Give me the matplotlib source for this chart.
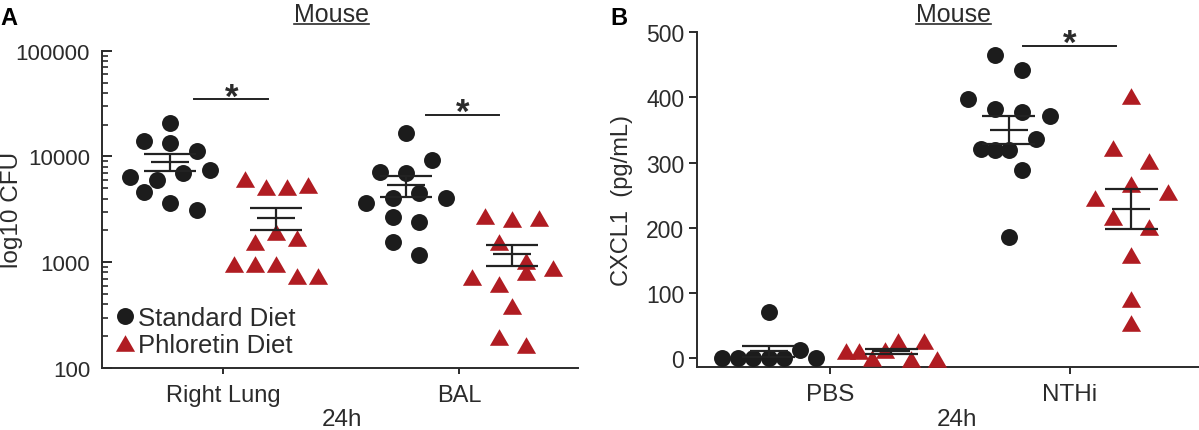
import numpy as np
import matplotlib
matplotlib.use('Agg')
import matplotlib.pyplot as plt
from matplotlib.ticker import LogLocator, NullFormatter, FixedLocator, FixedFormatter
from matplotlib.lines import Line2D
from matplotlib.path import Path

# ---------------- data ----------------
cats_a = ['Right Lung', 'BAL']
rl_std = [20700, 13900, 13500, 11300, 7380, 6380, 6020, 6920, 4600, 3670, 3130]
rl_phl = [6150, 5200, 5130, 5430, 1930, 1570, 1710, 966, 966, 966, 738, 738]
bal_std = [16600, 9310, 7110, 7010, 4510, 3650, 4040, 4040, 2670, 2390, 1570, 1180]
bal_phl = [2730, 2580, 2630, 1550, 1024, 805, 885, 722, 625, 389, 198, 166]
yticks_a = [100, 1000, 10000, 100000]

cats_b = ['PBS', 'NTHi']
pbs_std = [0, 0, 0, 0, 0, 12, 0, 70]
pbs_phl = [10, 10, 0, 13, 26, -2, 26, -2]
nthi_std = [465, 442, 397, 383, 378, 372, 336, 321, 319, 319, 288, 185]
nthi_phl = [402, 322, 302, 267, 246, 255, 216, 201, 158, 90, 54]
yticks_b = [0, 100, 200, 300, 400, 500]

legend_labels = ['Standard Diet', 'Phloretin Diet']

# ---------------- layout (swarm slots) ----------------
rl_std_slots = [0, -2, 0, 2, 3, -3, -1, 1, -2, 0, 2]
rl_phl_slots = [-3, -1, 1, 3, 0, -2, 2, -4, -2, 0, 2, 4]
bal_std_slots = [0, 2, -2, 0, 1, -3, -1, 3, -1, 1, -1, 1]
bal_phl_slots = [-2, 0, 2, -1, 1, 1, 3, -3, -1, 0, -1, 1]
pbs_std_slots = [-3, -2, -1, 0, 1, 2, 3, 0]
pbs_phl_slots = [-3.5, -2.5, -1.5, -0.5, 0.5, 1.5, 2.5, 3.5]
nthi_std_slots = [-1, 1, -3, -1, 1, 3, 2, -2, -1, 0, 1, 0]
nthi_phl_slots = [0, -1, 1, 0, -2, 2, -1, 1, 0, 0, 0]

plt.rcParams['font.family'] = ['Liberation Sans', 'DejaVu Sans']
TXT = '#2b2b2b'
BLACK = '#1c1c1c'
RED = '#b01c22'
plt.rcParams['text.color'] = TXT

W, H = 1199, 431
fig = plt.figure(figsize=(W / 100, H / 100), dpi=100)


def px_ax(l, t, r, b):
    return fig.add_axes([l / W, 1 - b / H, (r - l) / W, (b - t) / H])


axA = px_ax(101.7, 51.7, 578, 369)
axB = px_ax(696.7, 33.3, 1199, 367.7)

tri = Path([(0, 0.866), (-1, -0.866), (1, -0.866), (0, 0.866)],
           [Path.MOVETO, Path.LINETO, Path.LINETO, Path.CLOSEPOLY])

CIRC_MS = 12.2
TRI_MS = 13.8


def group(ax, xc, vals, slots, step, kind):
    x = [xc + s * step for s in slots]
    if kind == 'o':
        ax.plot(x, vals, ls='none', marker='o', ms=CIRC_MS, color=BLACK, mew=0, zorder=3)
    else:
        ax.plot(x, vals, ls='none', marker=tri, ms=TRI_MS, color=RED, mew=0, zorder=3)
    v = np.asarray(vals, float)
    m = v.mean()
    se = v.std(ddof=1) / np.sqrt(len(v))
    kw = dict(color='#222222', lw=1.6, zorder=4)
    ax.vlines(xc, m - se, m + se, **kw)
    ax.hlines([m - se, m + se], xc - 0.11, xc + 0.11, **kw)
    ax.hlines(m, xc - 0.08, xc + 0.08, **kw)


def sig(ax, xc, x0, x1, y):
    ax.plot([xc + x0, xc + x1], [y, y], color='#222222', lw=1.4)
    ax.annotate('*', (xc + (x0 + x1) / 2, y), xytext=(0, -5), textcoords='offset points',
                ha='center', va='baseline', fontsize=25, fontweight='bold', color=TXT)


# ---------------- panel A ----------------
offA = 0.225
group(axA, 0 - offA, rl_std, rl_std_slots, 0.056, 'o')
group(axA, 0 + offA, rl_phl, rl_phl_slots, 0.0447, '^')
group(axA, 1 - offA, bal_std, bal_std_slots, 0.056, 'o')
group(axA, 1 + offA, bal_phl, bal_phl_slots, 0.057, '^')

axA.set_yscale('log')
axA.set_ylim(100, 100000)
axA.set_xlim(-0.515, 1.504)
axA.yaxis.set_major_locator(FixedLocator(yticks_a))
axA.yaxis.set_major_formatter(FixedFormatter([str(t) for t in yticks_a]))
axA.yaxis.set_minor_locator(LogLocator(base=10, subs=np.arange(2, 10)))
axA.yaxis.set_minor_formatter(NullFormatter())
axA.set_xticks([0, 1])
axA.set_xticklabels(cats_a)
axA.tick_params(axis='y', which='major', direction='in', length=7, width=1.4,
                colors=TXT, labelsize=16, pad=8.4)
axA.tick_params(axis='y', which='minor', direction='in', length=4.5, width=1.2, colors=TXT)
axA.tick_params(axis='x', direction='out', length=4.5, width=1.4, colors=TXT,
                labelsize=17, pad=7)

sig(axA, 0, -0.123, 0.191, 34600)
sig(axA, 1, -0.14, 0.17, 24700)

# legend
h1 = Line2D([], [], ls='none', marker='o', ms=CIRC_MS, color=BLACK, mew=0)
h2 = Line2D([], [], ls='none', marker=tri, ms=TRI_MS, color=RED, mew=0)
axA.legend([h1, h2], legend_labels, loc='lower left', bbox_to_anchor=(0.025, 0.035),
           frameon=False, fontsize=18.5, handlelength=0.9, handletextpad=0.05,
           labelspacing=0.12, borderpad=0, borderaxespad=0, labelcolor=TXT)

# ---------------- panel B ----------------
offB = 0.255
group(axB, 0 - offB, pbs_std, pbs_std_slots, 0.065, 'o')
group(axB, 0 + offB, pbs_phl, pbs_phl_slots, 0.054, '^')
group(axB, 1 - offB, nthi_std, nthi_std_slots, 0.057, 'o')
group(axB, 1 + offB, nthi_phl, nthi_phl_slots, 0.0757, '^')

axB.set_ylim(-13.4, 500)
axB.set_xlim(-0.555, 1.5375)
axB.set_yticks(yticks_b)
axB.set_xticks([0, 1])
axB.set_xticklabels(cats_b)
axB.tick_params(axis='y', direction='out', length=6, width=1.4, colors=TXT,
                labelsize=16.5, pad=3)
axB.tick_params(axis='x', direction='out', length=5, width=1.4, colors=TXT,
                labelsize=17.5, pad=7)

sig(axB, 1, -0.195, 0.19, 479)

for ax in (axA, axB):
    for s in ('top', 'right'):
        ax.spines[s].set_visible(False)
    for s in ('left', 'bottom'):
        ax.spines[s].set_linewidth(1.4)
        ax.spines[s].set_color(TXT)
    ax.patch.set_alpha(0)
    for lab in ax.get_xticklabels() + ax.get_yticklabels():
        lab.set_color(TXT)

# ---------------- figure texts ----------------
fig.text(12 / W, 1 - 210 / H, 'log10 CFU', rotation=90, ha='center', va='center',
         fontsize=17.5, color=TXT)
fig.text(622 / W, 1 - 200 / H, 'CXCL1  (pg/mL)', rotation=90, ha='center', va='center',
         fontsize=17, color=TXT)
fig.text(342 / W, 1 - 426.5 / H, '24h', ha='center', va='baseline', fontsize=17.5, color=TXT)
fig.text(957 / W, 1 - 426.5 / H, '24h', ha='center', va='baseline', fontsize=17.5, color=TXT)
fig.text(0 / W, 1 - 25 / H, 'A', ha='left', va='baseline', fontsize=17, fontweight='bold',
         color='black')
fig.text(610 / W, 1 - 25 / H, 'B', ha='left', va='baseline', fontsize=17, fontweight='bold',
         color='black')

titles = []
for xc in (331, 953):
    t = fig.text(xc / W, 1 - 21.7 / H, 'Mouse', ha='center', va='baseline', fontsize=18,
                 color=TXT)
    titles.append(t)

fig.canvas.draw()
r = fig.canvas.get_renderer()
for t in titles:
    bb = t.get_window_extent(r)
    yline = 1 - 24.5 / H
    fig.add_artist(Line2D([bb.x0 / W, bb.x1 / W], [yline, yline], color=TXT, lw=1.2,
                          transform=fig.transFigure))

fig.savefig('out.png', dpi=100)
